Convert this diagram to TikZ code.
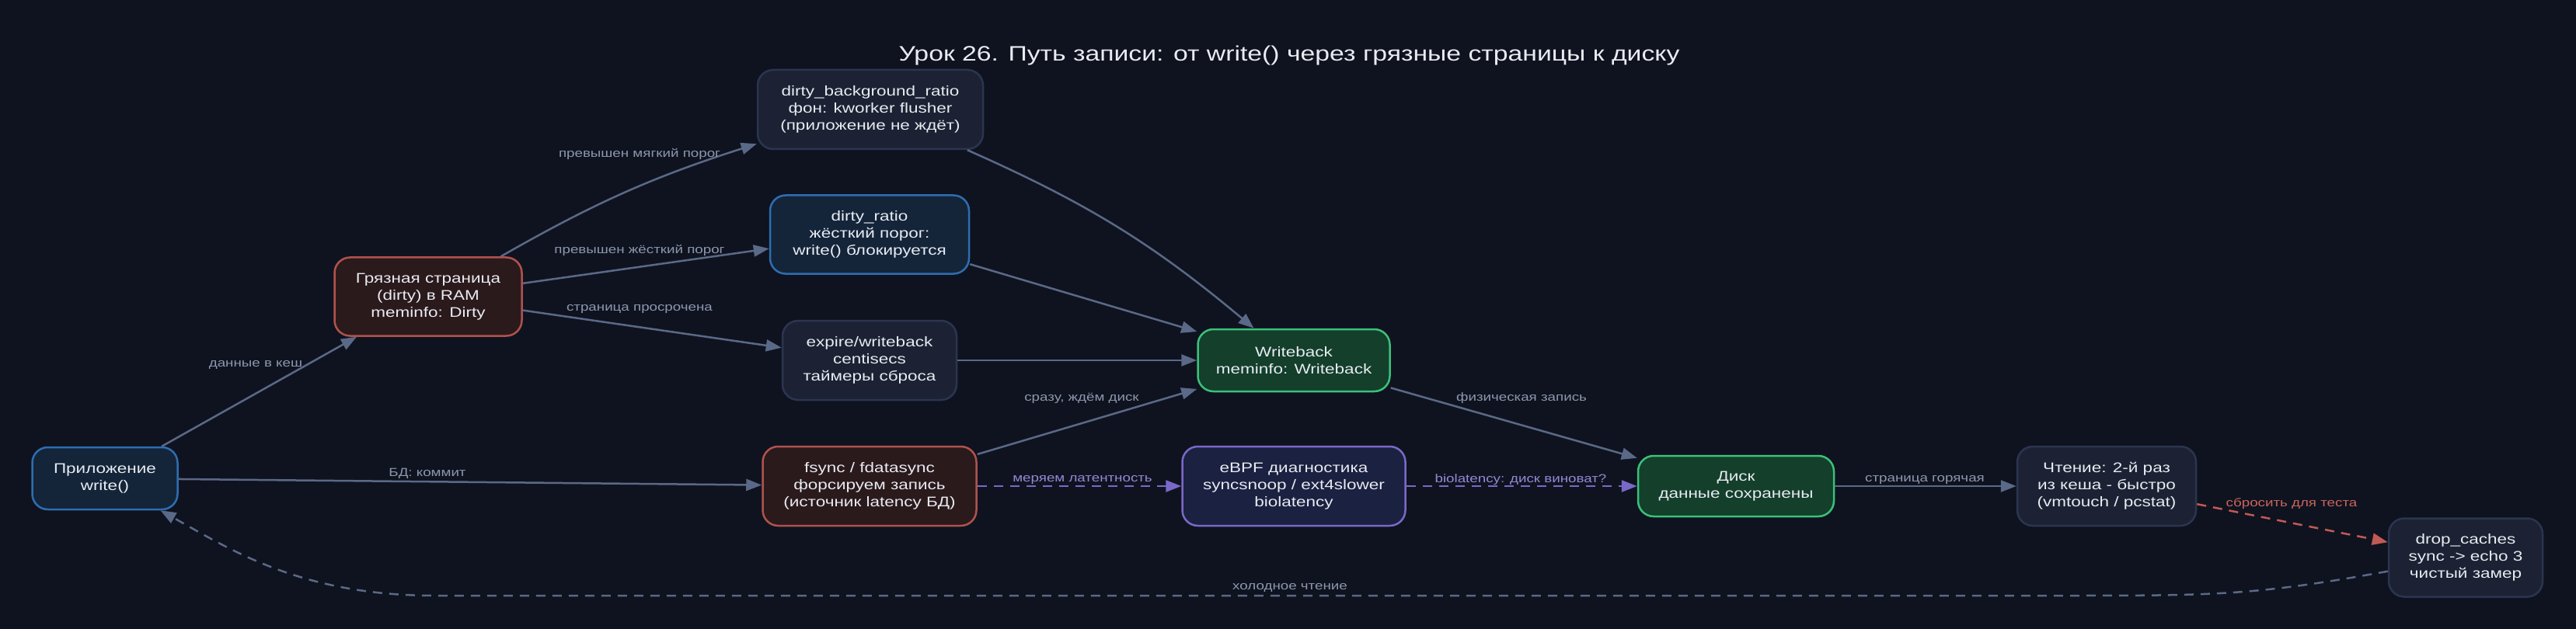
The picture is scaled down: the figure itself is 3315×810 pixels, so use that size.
\documentclass[tikz,border=0pt]{standalone}
\usepackage{fontspec}
\setmainfont{Liberation Sans}[FakeStretch=1.25]
\usetikzlibrary{arrows.meta}
\definecolor{bgc}{HTML}{0F131F}
\definecolor{txt}{HTML}{E8EBF2}
\definecolor{edgec}{HTML}{5A6987}
\definecolor{lblc}{HTML}{8C97AE}
\definecolor{bluefill}{HTML}{14253A}
\definecolor{blueline}{HTML}{2E6DB0}
\definecolor{redfill}{HTML}{2B1A1C}
\definecolor{redline}{HTML}{B0524E}
\definecolor{greenfill}{HTML}{133F2B}
\definecolor{greenline}{HTML}{3CC07A}
\definecolor{purpfill}{HTML}{1B2140}
\definecolor{purpline}{HTML}{7A68C8}
\definecolor{purplbl}{HTML}{9488D6}
\definecolor{grayfill}{HTML}{1C2233}
\definecolor{grayline}{HTML}{2B3550}
\definecolor{reddash}{HTML}{C05A55}
\definecolor{redlbl}{HTML}{C9645E}
\tikzset{
  box/.style={draw, rounded corners=20pt, line width=2.5pt, align=center,
    font=\fontsize{18}{22}\selectfont, text=txt, inner sep=0pt},
  bluebox/.style={box, fill=bluefill, draw=blueline},
  redbox/.style={box, fill=redfill, draw=redline},
  greenbox/.style={box, fill=greenfill, draw=greenline},
  purpbox/.style={box, fill=purpfill, draw=purpline},
  graybox/.style={box, fill=grayfill, draw=grayline},
  lbl/.style={font=\fontsize{15}{17}\selectfont, text=lblc, inner sep=1pt},
  conn/.style={draw=edgec, line width=2.5pt, -{Triangle[length=20pt,width=15pt]}},
  dashedconn/.style={conn, dash pattern=on 12pt off 9pt},
}
\begin{document}
\begin{tikzpicture}[x=1pt,y=-1pt]
\fill[bgc] (0,0) rectangle (3315,810);
\useasboundingbox (0,0) rectangle (3315,810);

\node[font=\fontsize{27}{31}\selectfont, text=txt] (title) at (1659,72)
  {Урок 26. Путь записи: от write() через грязные страницы к диску};

\node[bluebox, minimum width=187pt, minimum height=80pt] (app) at (135,616) {Приложение\\write()};
\node[redbox, minimum width=241pt, minimum height=101pt] (dirty) at (551,382) {Грязная страница\\(dirty) в RAM\\meminfo: Dirty};
\node[graybox, minimum width=290pt, minimum height=102pt] (dbg) at (1120,141) {dirty\_background\_ratio\\фон: kworker flusher\\(приложение не ждёт)};
\node[bluebox, minimum width=256pt, minimum height=101pt] (dratio) at (1119,302) {dirty\_ratio\\жёсткий порог:\\write() блокируется};
\node[graybox, minimum width=224pt, minimum height=102pt] (expire) at (1119,464) {expire/writeback\\centisecs\\таймеры сброса};
\node[greenbox, minimum width=247pt, minimum height=80pt] (wb) at (1665,464) {Writeback\\meminfo: Writeback};
\node[redbox, minimum width=275pt, minimum height=102pt] (fsync) at (1119,626) {fsync / fdatasync\\форсируем запись\\(источник latency БД)};
\node[purpbox, minimum width=287pt, minimum height=102pt] (ebpf) at (1665,626) {eBPF диагностика\\syncsnoop / ext4slower\\biolatency};
\node[greenbox, minimum width=252pt, minimum height=78pt] (disk) at (2234,626) {Диск\\данные сохранены};
\node[graybox, minimum width=230pt, minimum height=102pt] (read) at (2711,626) {Чтение: 2-й раз\\из кеша - быстро\\(vmtouch / pcstat)};
\node[graybox, minimum width=198pt, minimum height=101pt] (drop) at (3173,718) {drop\_caches\\sync -> echo 3\\чистый замер};

\draw[conn] (app) -- (dirty) node[lbl, at={(329,470)}] {данные в кеш};
\draw[conn] (dirty) to[bend left=6] (dbg) node[lbl, at={(823,198)}] {превышен мягкий порог};
\draw[conn] (dirty) -- (dratio) node[lbl, at={(823,322)}] {превышен жёсткий порог};
\draw[conn] (dirty) -- (expire) node[lbl, at={(823,398)}] {страница просрочена};
\draw[conn] (dbg) to[bend left=8] (wb);
\draw[conn] (dratio) -- (wb);
\draw[conn] (expire) -- (wb);
\draw[conn] (fsync) -- (wb) node[lbl, at={(1392,513)}] {сразу, ждём диск};
\draw[conn] (wb) -- (disk) node[lbl, at={(1958,513)}] {физическая запись};
\draw[conn] (app) -- (fsync) node[lbl, at={(550,610)}] {БД: коммит};
\draw[dashedconn, draw=purpline, -{Triangle[length=20pt,width=15pt,fill=purpline]}] (fsync) -- (ebpf)
  node[lbl, text=purplbl, at={(1393,618)}] {меряем латентность};
\draw[dashedconn, draw=purpline, -{Triangle[length=20pt,width=15pt,fill=purpline]}] (ebpf) -- (disk)
  node[lbl, text=purplbl, at={(1957,618)}] {biolatency: диск виноват?};
\draw[conn] (disk) -- (read) node[lbl, at={(2477,618)}] {страница горячая};
\draw[dashedconn, draw=reddash] (read) -- (drop) node[lbl, text=redlbl, at={(2949,649)}] {сбросить для теста};
\draw[dashedconn] (drop.190) .. controls (2900,767) and (2850,767) .. (2650,767)
  -- (560,767) .. controls (390,767) and (300,710) .. (app.-30)
  node[lbl, at={(1660,757)}] {холодное чтение};
\end{tikzpicture}
\end{document}
